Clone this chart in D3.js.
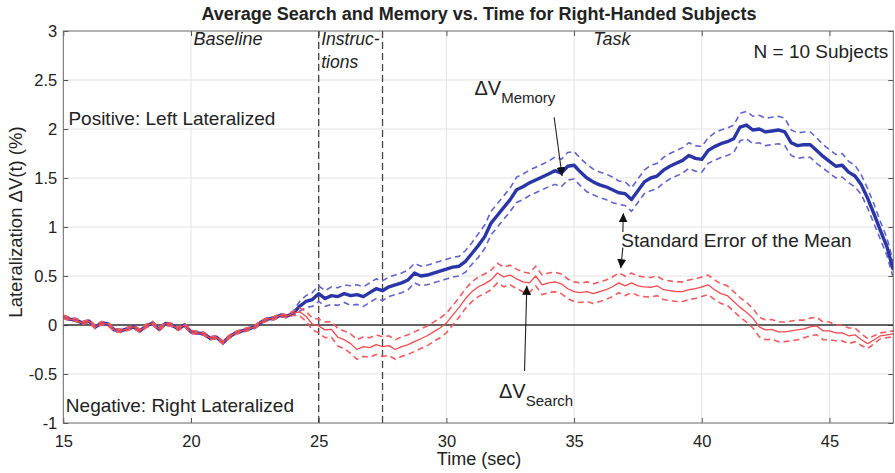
<!DOCTYPE html>
<html><head><meta charset="utf-8">
<script src="https://cdn.jsdelivr.net/npm/d3@7"></script>
<style>body{margin:0;background:#fff} svg{display:block} text{font-family:Arial,"Liberation Sans",sans-serif;fill:#222}</style>
</head><body><svg id="c" width="895" height="473"></svg>
<script>
const time = [15,15.25,15.5,15.75,16,16.25,16.5,16.75,17,17.25,17.5,17.75,18,18.25,18.5,18.75,19,19.25,19.5,19.75,20,20.25,20.5,20.75,21,21.25,21.5,21.75,22,22.25,22.5,22.75,23,23.25,23.5,23.75,24,24.25,24.5,24.75,25,25.25,25.5,25.75,26,26.25,26.5,26.75,27,27.25,27.5,27.75,28,28.25,28.5,28.75,29,29.25,29.5,29.75,30,30.25,30.5,30.75,31,31.25,31.5,31.75,32,32.25,32.5,32.75,33,33.25,33.5,33.75,34,34.25,34.5,34.75,35,35.25,35.5,35.75,36,36.25,36.5,36.75,37,37.25,37.5,37.75,38,38.25,38.5,38.75,39,39.25,39.5,39.75,40,40.25,40.5,40.75,41,41.25,41.5,41.75,42,42.25,42.5,42.75,43,43.25,43.5,43.75,44,44.25,44.5,44.75,45,45.25,45.5,45.75,46,46.25,46.5,46.75,47,47.25,47.5];

const memoryMean = [
 0.085,0.06,0.05,0.02, 0.04,-0.02,0.02,0.01, -0.05,-0.06,-0.04,-0.02, -0.06,-0.01,0.02,-0.045,
 0.015,0.0,-0.04,0.0, -0.07,-0.08,-0.09,-0.135, -0.125,-0.18,-0.12,-0.08, -0.06,-0.04,-0.02,0.03,
 0.06,0.07,0.10,0.09, 0.12,0.19,0.24,0.26, 0.32,0.27,0.30,0.29, 0.32,0.30,0.31,0.29,
 0.33,0.37,0.35,0.39, 0.41,0.43,0.46,0.53, 0.50,0.51,0.53,0.55, 0.57,0.59,0.60,0.65,
 0.73,0.81,0.90,1.04, 1.12,1.20,1.28,1.38, 1.41,1.45,1.48,1.51, 1.54,1.575,1.55,1.62,
 1.63,1.56,1.50,1.46, 1.43,1.41,1.38,1.35, 1.34,1.28,1.37,1.46, 1.50,1.52,1.58,1.62,
 1.65,1.68,1.73,1.70, 1.69,1.78,1.82,1.85, 1.87,1.90,2.02,2.04, 1.99,2.00,1.97,1.98,
 1.99,1.97,1.86,1.83, 1.84,1.84,1.78,1.72, 1.67,1.62,1.63,1.56, 1.52,1.43,1.29,1.13,
 0.96,0.80,0.56];

const memorySem = [
 0.015,0.015,0.015,0.015, 0.015,0.015,0.015,0.015, 0.015,0.015,0.015,0.015, 0.015,0.015,0.015,0.015,
 0.015,0.015,0.015,0.015, 0.015,0.015,0.015,0.015, 0.015,0.015,0.015,0.015, 0.015,0.015,0.015,0.015,
 0.015,0.015,0.015,0.015, 0.02,0.05,0.06,0.07, 0.08,0.08,0.09,0.09, 0.09,0.10,0.10,0.10,
 0.10,0.10,0.10,0.10, 0.10,0.10,0.10,0.10, 0.10,0.10,0.10,0.10, 0.10,0.10,0.10,0.11,
 0.11,0.12,0.12,0.12, 0.12,0.12,0.12,0.13, 0.13,0.13,0.13,0.13, 0.13,0.14,0.14,0.14,
 0.14,0.14,0.14,0.13, 0.13,0.13,0.13,0.12, 0.12,0.12,0.12,0.12, 0.13,0.13,0.13,0.13,
 0.13,0.13,0.13,0.13, 0.13,0.13,0.14,0.14, 0.14,0.14,0.14,0.14, 0.14,0.14,0.14,0.14,
 0.14,0.14,0.13,0.13, 0.13,0.13,0.13,0.12, 0.12,0.12,0.12,0.11, 0.11,0.10,0.10,0.10,
 0.09,0.09,0.08];

const searchMean = [
 0.085,0.06,0.05,0.02, 0.04,-0.02,0.02,0.01, -0.05,-0.06,-0.04,-0.02, -0.06,-0.01,0.02,-0.045,
 0.015,0.0,-0.04,0.0, -0.07,-0.08,-0.09,-0.135, -0.125,-0.18,-0.12,-0.08, -0.06,-0.04,-0.02,0.03,
 0.06,0.07,0.10,0.09, 0.12,0.135,0.09,0.01, -0.01,-0.05,-0.045,-0.125, -0.15,-0.19,-0.25,-0.22,
 -0.23,-0.20,-0.22,-0.21, -0.25,-0.22,-0.20,-0.17, -0.14,-0.11,-0.07,-0.03, 0.02,0.10,0.18,0.27,
 0.34,0.39,0.42,0.46, 0.53,0.49,0.51,0.47, 0.44,0.43,0.50,0.41, 0.43,0.44,0.42,0.37,
 0.34,0.33,0.34,0.32, 0.34,0.36,0.39,0.43, 0.40,0.43,0.40,0.39, 0.385,0.40,0.36,0.35,
 0.34,0.34,0.36,0.37, 0.39,0.41,0.36,0.32, 0.30,0.24,0.18,0.13, 0.07,-0.02,-0.05,-0.045,
 -0.07,-0.07,-0.06,-0.05, -0.04,-0.02,-0.01,-0.06, -0.06,-0.08,-0.08,-0.11, -0.10,-0.15,-0.19,-0.15,
 -0.11,-0.10,-0.09];

const searchSem = [
 0.015,0.015,0.015,0.015, 0.015,0.015,0.015,0.015, 0.015,0.015,0.015,0.015, 0.015,0.015,0.015,0.015,
 0.015,0.015,0.015,0.015, 0.015,0.015,0.015,0.015, 0.015,0.015,0.015,0.015, 0.015,0.015,0.015,0.015,
 0.015,0.015,0.015,0.015, 0.02,0.04,0.05,0.06, 0.07,0.08,0.08,0.09, 0.09,0.10,0.10,0.10,
 0.10,0.10,0.10,0.10, 0.10,0.10,0.10,0.10, 0.10,0.10,0.10,0.10, 0.10,0.10,0.10,0.10,
 0.10,0.10,0.10,0.10, 0.10,0.10,0.10,0.10, 0.10,0.10,0.10,0.10, 0.10,0.10,0.10,0.10,
 0.10,0.10,0.10,0.10, 0.10,0.10,0.10,0.10, 0.10,0.10,0.10,0.10, 0.10,0.10,0.10,0.10,
 0.10,0.10,0.10,0.10, 0.10,0.10,0.10,0.10, 0.10,0.10,0.10,0.10, 0.10,0.10,0.10,0.10,
 0.10,0.10,0.10,0.10, 0.09,0.09,0.09,0.09, 0.09,0.08,0.08,0.08, 0.07,0.06,0.05,0.04,
 0.03,0.03,0.03];

const xTicks = [15,20,25,30,35,40,45];
const yTicks = [-1,-0.5,0,0.5,1,1.5,2,2.5,3];
const phaseLines = [25, 27.5];

const W = 895, H = 473;
const m = {left: 63.3, right: 1.7, top: 31, bottom: 50};
const FONT = "Arial, 'Liberation Sans', sans-serif";
const svg = d3.select("#c");
const x = d3.scaleLinear().domain([15, 47.5]).range([m.left, W - m.right]);
const y = d3.scaleLinear().domain([-1, 3]).range([H - m.bottom, m.top]);
const x0 = x.range()[0], x1 = x.range()[1], y0 = y.range()[1], y1 = y.range()[0];

// defs
const defs = svg.append("defs");
defs.append("clipPath").attr("id","clip").append("rect")
  .attr("x", x0).attr("y", y0).attr("width", x1 - x0).attr("height", y1 - y0);
defs.append("marker").attr("id","ah").attr("viewBox","0 0 10 10").attr("refX",10).attr("refY",5)
  .attr("markerWidth",9).attr("markerHeight",9).attr("markerUnits","userSpaceOnUse").attr("orient","auto")
  .append("path").attr("d","M0,0 L10,5 L0,10 z").attr("fill","#111");

// grid
svg.append("g").selectAll("line").data(xTicks.filter(d => d > 15)).join("line")
  .attr("x1", d => x(d)).attr("x2", d => x(d)).attr("y1", y0).attr("y2", y1)
  .attr("stroke", "#e3e3e3").attr("stroke-width", 1);
svg.append("g").selectAll("line").data(yTicks.filter(d => d > -1 && d < 3)).join("line")
  .attr("x1", x0).attr("x2", x1).attr("y1", d => y(d)).attr("y2", d => y(d))
  .attr("stroke", "#e3e3e3").attr("stroke-width", 1);

// axes (ticks inside, on all sides)
const ax = (g) => g.selectAll(".domain").remove();
const styleText = g => g.selectAll("text").attr("font-size", 16.5).attr("fill","#222").attr("font-family", FONT);
svg.append("g").attr("transform", `translate(0,${y1})`)
  .call(d3.axisBottom(x).tickValues(xTicks).tickSize(-5).tickPadding(12).tickFormat(d => String(d)))
  .call(ax).call(g => g.selectAll("line").attr("stroke","#555")).call(styleText);
svg.append("g").attr("transform", `translate(0,${y0})`)
  .call(d3.axisTop(x).tickValues(xTicks).tickSize(-5).tickFormat(""))
  .call(ax).call(g => g.selectAll("line").attr("stroke","#555"));
svg.append("g").attr("transform", `translate(${x0},0)`)
  .call(d3.axisLeft(y).tickValues(yTicks).tickSize(-5).tickPadding(6).tickFormat(d => String(d)))
  .call(ax).call(g => g.selectAll("line").attr("stroke","#555")).call(styleText);
svg.append("g").attr("transform", `translate(${x1},0)`)
  .call(d3.axisRight(y).tickValues(yTicks).tickSize(-5).tickFormat(""))
  .call(ax).call(g => g.selectAll("line").attr("stroke","#555"));

// zero line
svg.append("line").attr("x1", x0).attr("x2", x1).attr("y1", y(0)).attr("y2", y(0))
  .attr("stroke", "#333").attr("stroke-width", 1.3);

// phase boundaries
svg.append("g").selectAll("line").data(phaseLines).join("line")
  .attr("x1", d => x(d)).attr("x2", d => x(d)).attr("y1", y0).attr("y2", y1)
  .attr("stroke", "#444").attr("stroke-width", 1.3).attr("stroke-dasharray", "7,4");

// series
const plot = svg.append("g").attr("clip-path", "url(#clip)");
function drawSeries(mean, sem, meanColor, meanWidth, bandColor) {
  const pts = time.map((t, i) => ({t, v: mean[i], s: sem[i]}));
  const ln = acc => d3.line().x(d => x(d.t)).y(d => y(acc(d)));
  plot.append("path").datum(pts).attr("d", ln(d => d.v + d.s)).attr("fill","none")
    .attr("stroke", bandColor).attr("stroke-width", 1.6).attr("stroke-dasharray", "6,4");
  plot.append("path").datum(pts).attr("d", ln(d => d.v - d.s)).attr("fill","none")
    .attr("stroke", bandColor).attr("stroke-width", 1.6).attr("stroke-dasharray", "6,4");
  plot.append("path").datum(pts).attr("d", ln(d => d.v)).attr("fill","none")
    .attr("stroke", meanColor).attr("stroke-width", meanWidth).attr("stroke-linejoin","round");
}
drawSeries(memoryMean, memorySem, "#2a36a8", 3.4, "#6064cc");
drawSeries(searchMean, searchSem, "#f04a4f", 1.3, "#f25a5e");

// frame
svg.append("rect").attr("x", x0).attr("y", y0).attr("width", x1 - x0).attr("height", y1 - y0)
  .attr("fill","none").attr("stroke","#666").attr("stroke-width",1);

// title & axis labels
svg.append("text").attr("x", 479).attr("y", 20).attr("text-anchor","middle")
  .attr("font-size", 18).attr("font-weight","bold").attr("fill","#222")
  .text("Average Search and Memory vs. Time for Right-Handed Subjects");
svg.append("text").attr("x", 479).attr("y", 465).attr("text-anchor","middle")
  .attr("font-size", 18).text("Time (sec)");
svg.append("text").attr("transform", `translate(22,222) rotate(-90)`).attr("text-anchor","middle")
  .attr("font-size", 18.5).text("Lateralization \u0394V(t) (%)");

// annotations (placed in data coordinates)
const note = (t, v, txt, opts = {}) => svg.append("text").attr("x", x(t)).attr("y", y(v))
  .attr("font-size", opts.size || 18.5).attr("font-style", opts.italic ? "italic" : null)
  .attr("text-anchor", opts.anchor || "start").text(txt);
note(20.1, 2.86, "Baseline", {italic: true, size: 18});
note(25.1, 2.86, "Instruc-", {italic: true, size: 17.5});
note(25.1, 2.62, "tions", {italic: true, size: 17.5});
note(35.75, 2.86, "Task", {italic: true, size: 18});
note(47.3, 2.72, "N = 10 Subjects", {anchor: "end", size: 19});
note(15.2, 2.04, "Positive: Left Lateralized", {size: 19});
note(15.1, -0.89, "Negative: Right Lateralized", {size: 19});
note(36.85, 0.80, "Standard Error of the Mean", {size: 19});

function deltaLabel(t, v, sub) {
  const tx = svg.append("text").attr("x", x(t)).attr("y", y(v)).attr("font-size", 20);
  tx.append("tspan").text("\u0394V");
  tx.append("tspan").attr("font-size", 15).attr("dy", 8).text(sub);
}
deltaLabel(31.1, 2.35, "Memory");
deltaLabel(32.06, -0.745, "Search");

const arrows = [
  [[34.22, 2.12], [34.53, 1.52]],
  [[33.06, -0.47], [33.15, 0.40]],
  [[36.91, 0.95], [36.93, 1.14]],
  [[36.91, 0.79], [36.83, 0.58]]
];
svg.append("g").selectAll("line").data(arrows).join("line")
  .attr("x1", d => x(d[0][0])).attr("y1", d => y(d[0][1]))
  .attr("x2", d => x(d[1][0])).attr("y2", d => y(d[1][1]))
  .attr("stroke", "#222").attr("stroke-width", 1.1).attr("marker-end", "url(#ah)");
</script></body></html>
